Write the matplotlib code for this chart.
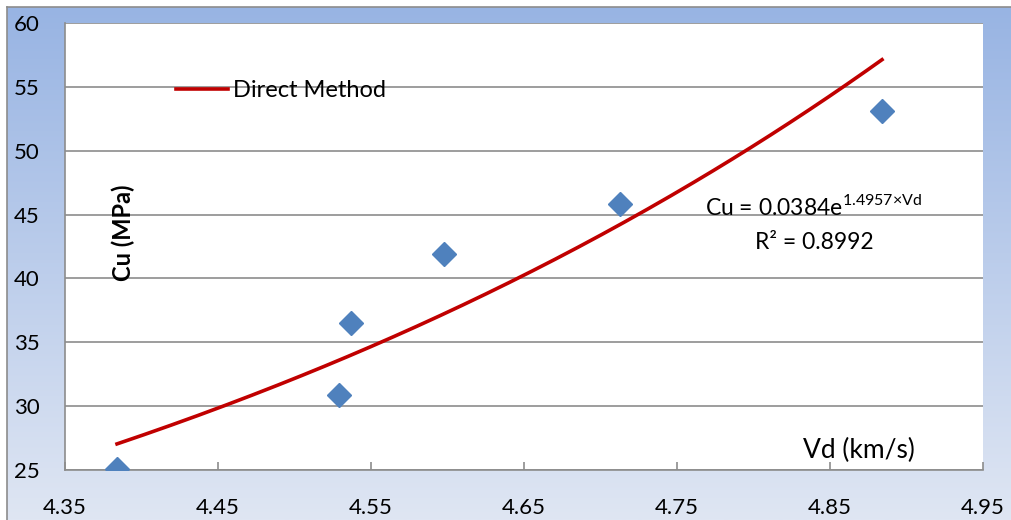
import numpy as np
import matplotlib.pyplot as plt
from matplotlib.colors import LinearSegmentedColormap

plt.rcParams['font.family'] = ['Lato', 'DejaVu Sans']
plt.rcParams['mathtext.fontset'] = 'custom'
plt.rcParams['mathtext.rm'] = 'Lato'

# measured points
vd = np.array([4.384, 4.529, 4.537, 4.598, 4.713, 4.884])
cu = np.array([25.1, 30.9, 36.5, 41.9, 45.8, 53.1])

# exponential trendline shown on the chart
a_fit = 0.0384
b_fit = 1.4957
r2 = 0.8992

yticks = [25, 30, 35, 40, 45, 50, 55, 60]
xticks = [4.35, 4.45, 4.55, 4.65, 4.75, 4.85, 4.95]

fig = plt.figure(figsize=(10.11, 5.2), dpi=100)

# blue gradient backdrop with a thin gray frame at top / left
bg = fig.add_axes([7 / 1011, 0, 1004 / 1011, 513 / 520])
cmap = LinearSegmentedColormap.from_list('bg', ['#98b4e3', '#dfe6f3'])
grad = np.linspace(0, 1, 256).reshape(-1, 1)
bg.imshow(grad, aspect='auto', cmap=cmap, extent=[0, 1, 0, 1], origin='upper')
bg.set_xlim(0, 1)
bg.set_ylim(0, 1)
bg.set_xticks([])
bg.set_yticks([])
for s in ['right', 'bottom']:
    bg.spines[s].set_visible(False)
bg.spines['top'].set_color('#8c8c8c')
bg.spines['left'].set_color('#8c8c8c')
bg.spines['top'].set_linewidth(1.2)
bg.spines['left'].set_linewidth(1.2)

ax = fig.add_axes([65 / 1011, 50 / 520, 918 / 1011, 447 / 520])
ax.set_facecolor('white')

vd_fit = np.linspace(vd.min(), vd.max(), 200)
cu_fit = a_fit * np.exp(b_fit * vd_fit)

ax.plot(vd, cu, 'D', color='#4f81bd', markersize=12, zorder=3)
line, = ax.plot(vd_fit, cu_fit, '-', color='#c00000', lw=2.6, zorder=4,
                label='Direct Method')

ax.set_xlim(4.35, 4.95)
ax.set_ylim(25, 60)
ax.set_xticks(xticks)
ax.set_yticks(yticks)
ax.set_xticklabels(['%.2f' % t for t in xticks])
ax.grid(True, axis='y', color='#8c8c8c', lw=1.2)
ax.set_axisbelow(True)

ax.tick_params(axis='x', direction='in', length=6, width=1.2, color='#8c8c8c',
               pad=20, labelsize=16)
ax.tick_params(axis='y', length=0, pad=37, labelsize=16)
for t in ax.get_yticklabels():
    t.set_horizontalalignment('left')

ax.spines['top'].set_visible(False)
ax.spines['right'].set_visible(False)
for s in ['left', 'bottom']:
    ax.spines[s].set_color('#8c8c8c')
    ax.spines[s].set_linewidth(1.2)

ax.text(4.388, 43.6, 'Cu (MPa)', rotation=90, fontsize=17, fontweight='bold',
        ha='center', va='center')
ax.text(4.869, 26.5, 'Vd (km/s)', fontsize=19, ha='center', va='center')

ax.text(4.8395, 45.6, r'Cu = 0.0384e$^{\mathrm{%.4f×Vd}}$' % b_fit, fontsize=16.5,
        ha='center', va='center')
ax.text(4.8395, 42.85, 'R² = %.4f' % r2, fontsize=16.5, ha='center', va='center')

ax.legend(handles=[line], loc='center left', bbox_to_anchor=(0.121, 0.848),
          frameon=False, fontsize=17, handlelength=2.2, handletextpad=0.2,
          borderpad=0, borderaxespad=0)

fig.savefig('out.png', dpi=100)
